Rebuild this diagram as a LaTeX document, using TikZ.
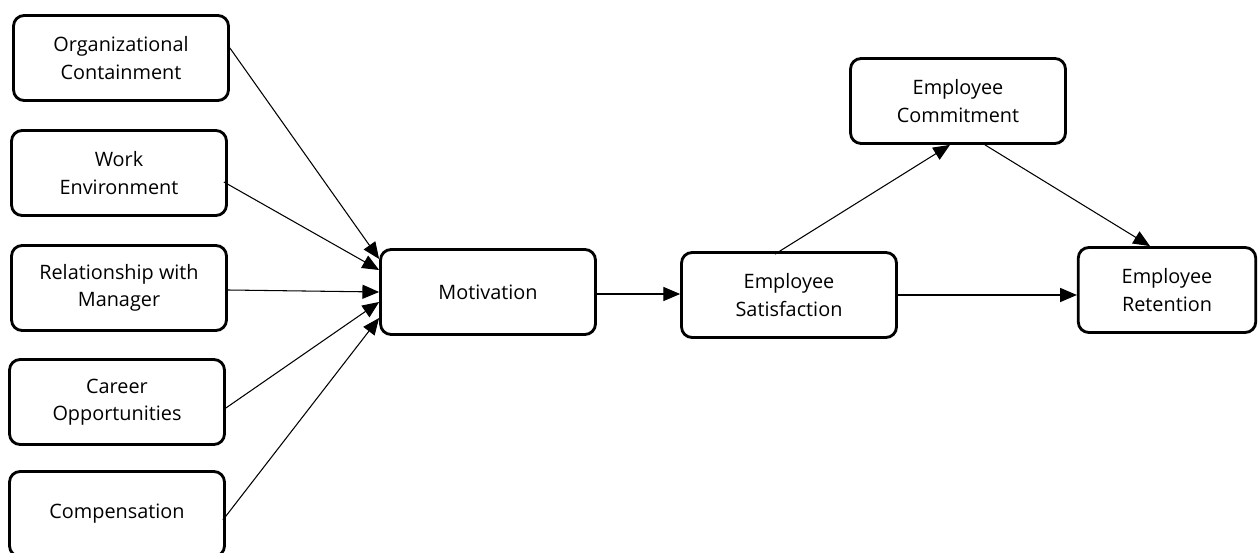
\documentclass[tikz,border=0pt]{standalone}
\usepackage{fontspec}
\setmainfont{Open Sans}
\usetikzlibrary{arrows.meta}

\tikzset{
    factor/.style={draw, line width=1.6pt, rounded corners=6pt, align=center,
        minimum width=4.3cm, minimum height=1.7cm, inner sep=2pt,
        font=\fontsize{11.3}{15.5}\selectfont},
    link/.style={line width=0.6pt, -{Triangle[length=9.5pt,width=8pt]}}
}

\begin{document}
\begin{tikzpicture}[x=0.02cm, y=-0.02cm]

    % Frame of the picture
    \useasboundingbox (0,0) rectangle (1258,553);

    % Factors on the left
    \node[factor] (org) at (121,58) {Organizational\\Containment};
    \node[factor] (work) at (119,173) {Work\\Environment};
    \node[factor] (rel) at (119,288) {Relationship with\\Manager};
    \node[factor] (career) at (117,402) {Career\\Opportunities};
    \node[factor] (comp) at (117,514) {Compensation};

    % Outcomes
    \node[factor] (mot) at (488,292) {Motivation};
    \node[factor] (sat) at (789,295) {Employee\\Satisfaction};
    \node[factor] (com) at (958,101) {Employee\\Commitment};
    \node[factor, minimum width=3.55cm] (ret) at (1167,290) {Employee\\Retention};

    % Arrows into motivation
    \draw[link] ([shift={(0,-10)}]org.east) -- ([shift={(0,-33)}]mot.west);
    \draw[link] ([shift={(-4,9)}]work.east) -- ([shift={(0,-22)}]mot.west);
    \draw[link] ([shift={(0,2)}]rel.east) -- (mot.west);
    \draw[link] ([shift={(0,6)}]career.east) -- ([shift={(0,10)}]mot.west);
    \draw[link] ([shift={(-3,6)}]comp.east) -- ([shift={(0,26)}]mot.west);

    % Arrows to the right
    \draw[link] ([shift={(0,2)}]mot.east) -- ([shift={(0,-1)}]sat.west);
    \draw[link] ([shift={(-14,3)}]sat.north) -- ([shift={(-8,0)}]com.south);
    \draw[link] ([shift={(27,0)}]com.south) -- ([shift={(-17,0)}]ret.north);
    \draw[link] (sat.east) -- ([shift={(0,5)}]ret.west);

\end{tikzpicture}
\end{document}
